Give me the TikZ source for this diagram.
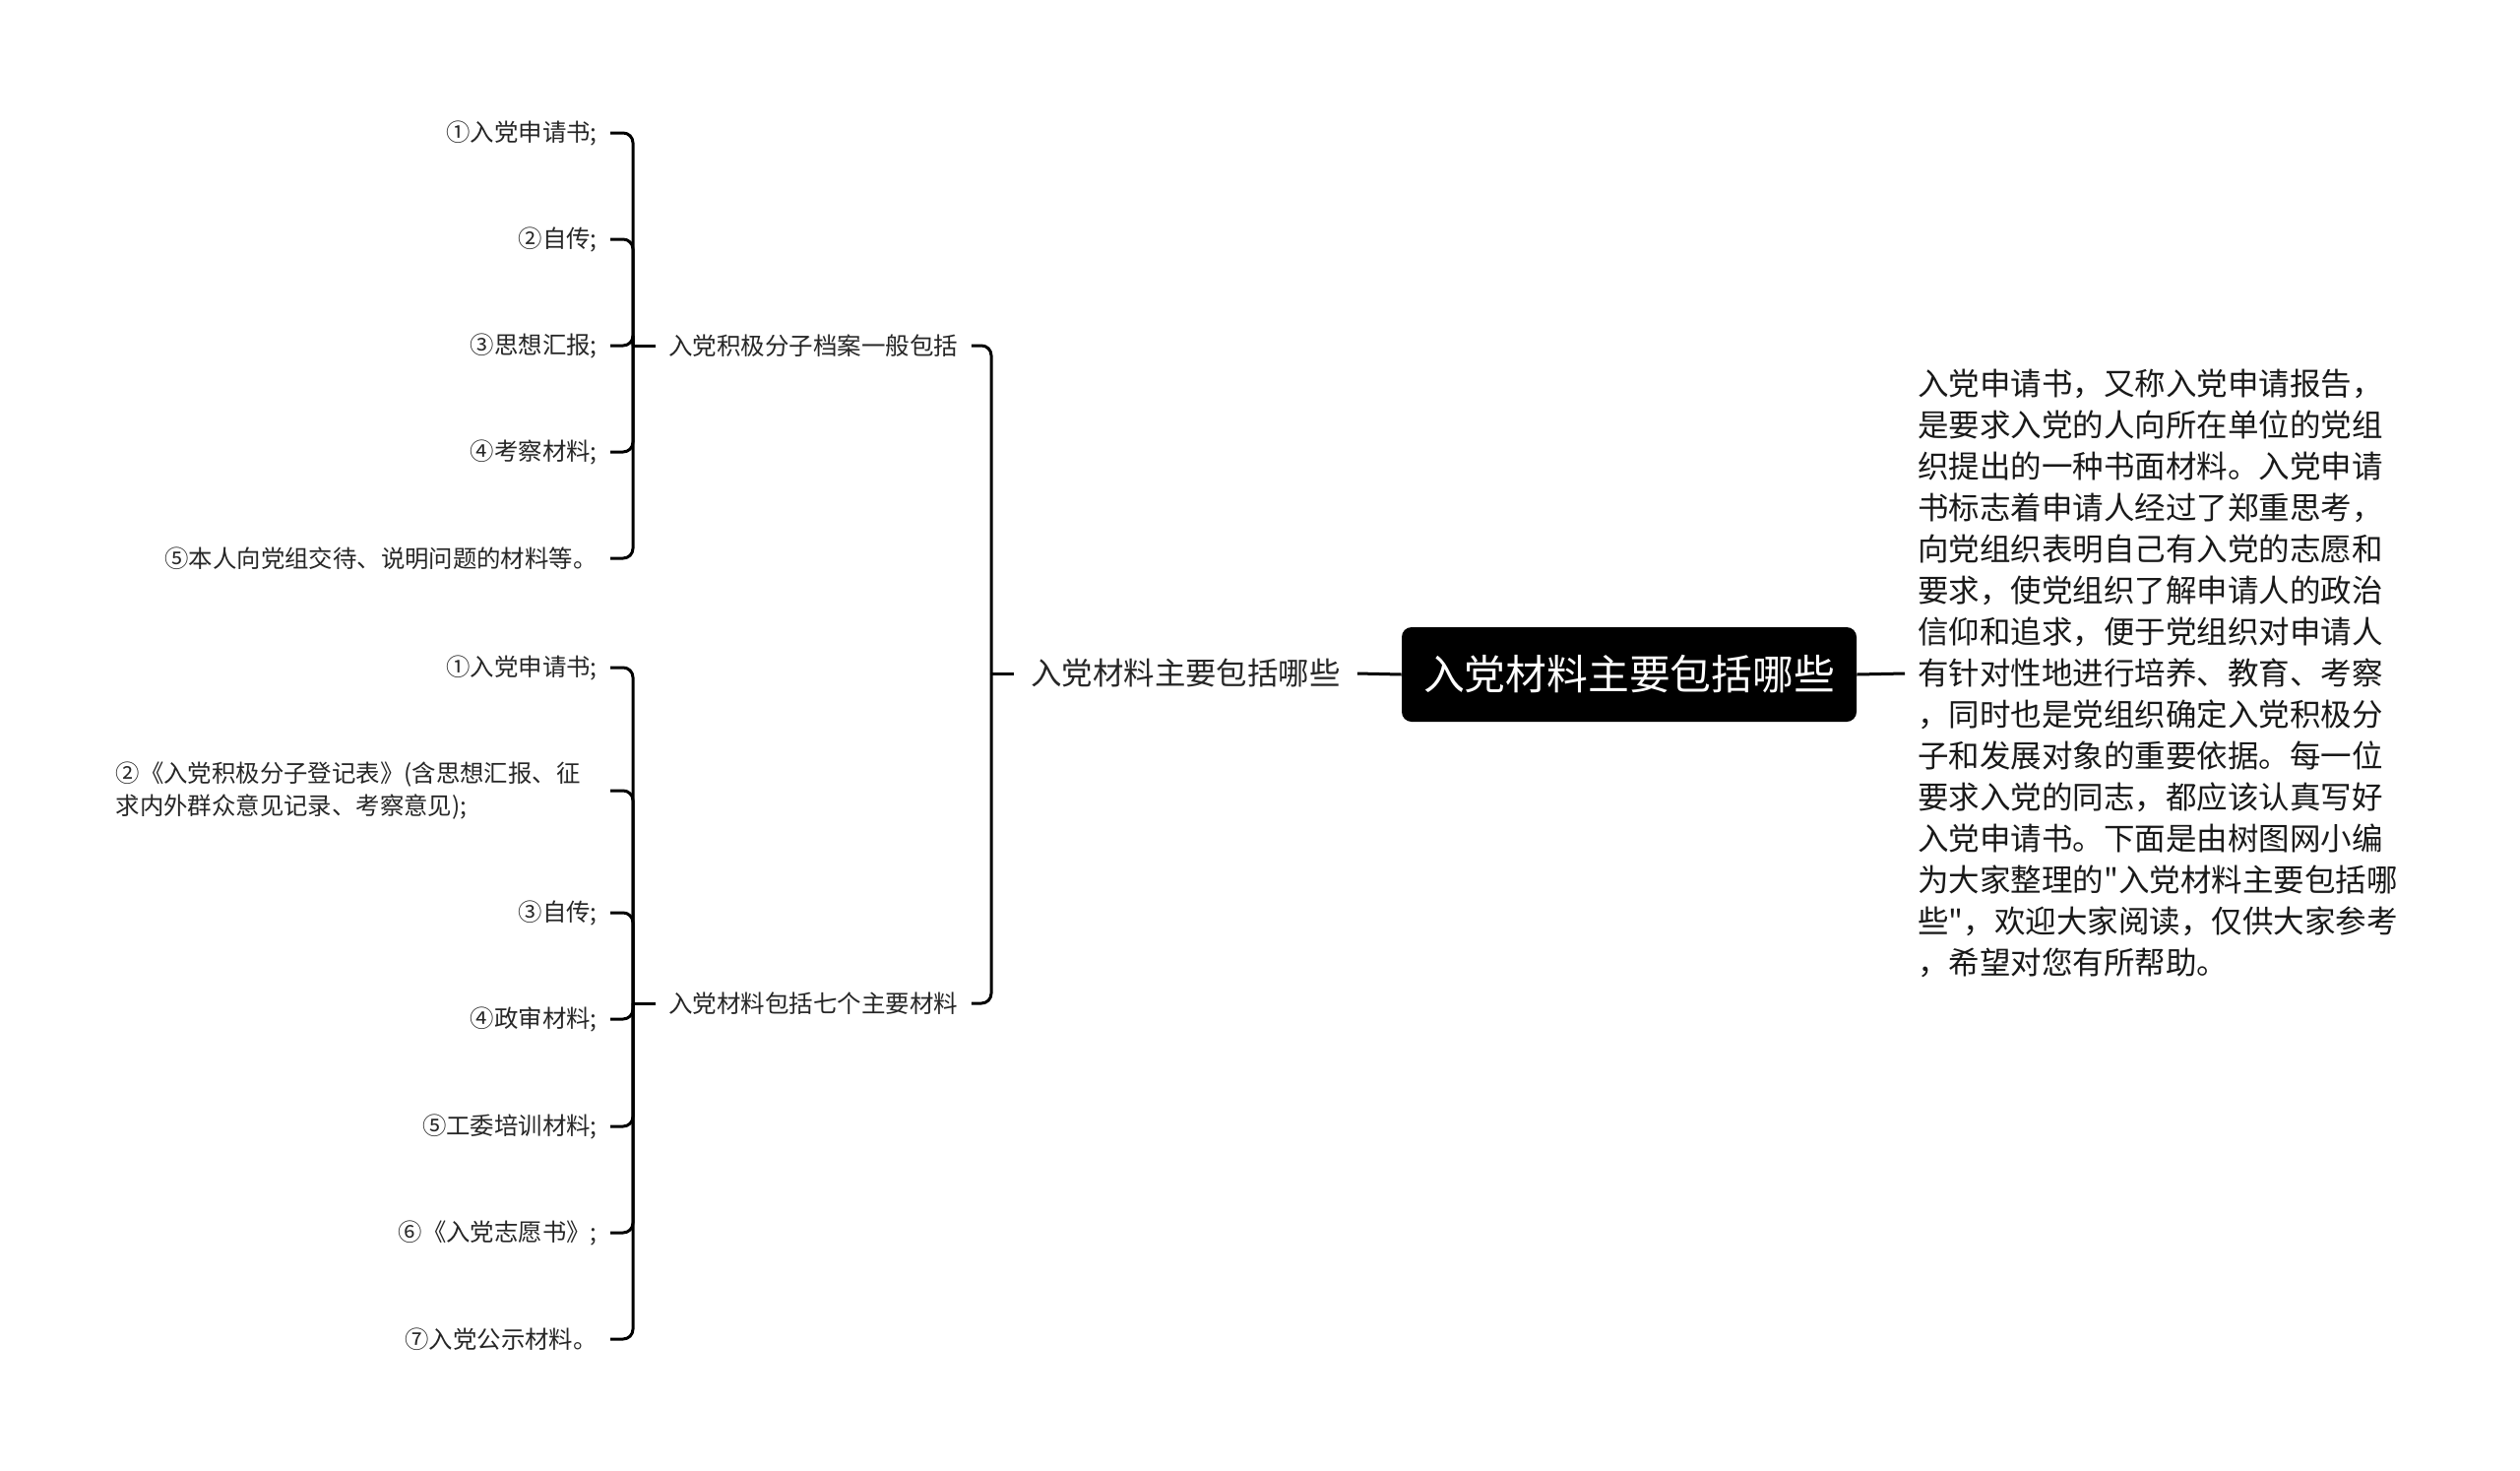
\documentclass[tikz,border=0pt]{standalone}
\usepackage{fontspec}
\newfontfamily\cjk{Noto Sans CJK SC}
\begin{document}
\begin{tikzpicture}[x=0.5pt,y=-0.5pt,
  conn/.style={line width=1.5pt, black, rounded corners=5pt},
  leaf/.style={font=\cjk\fontsize{12.2pt}{16.5pt}\selectfont, inner xsep=6.5pt, inner ysep=2pt, anchor=east, text=black!85},
  grp/.style={font=\cjk\fontsize{12.25pt}{15pt}\selectfont, inner xsep=6.5pt, inner ysep=2pt, anchor=west, text=black!85},
  lvl/.style={font=\cjk\fontsize{15.7pt}{19pt}\selectfont, inner xsep=8.5pt, inner ysep=2pt, anchor=west, text=black!85},
  rootbox/.style={font=\cjk\fontsize{20.9pt}{24pt}\selectfont, fill=black, text=white, rounded corners=5pt, minimum width=231pt, minimum height=48pt, inner sep=0pt},
  para/.style={font=\cjk\fontsize{15.75pt}{21pt}\selectfont, inner xsep=6.5pt, inner ysep=0pt, anchor=west, align=left, text=black!90}]
\path[use as bounding box] (0,0) rectangle (2560,1494);

% root and level one
\node[rootbox] (root) at (1655,685) {入党材料主要包括哪些};
\node[lvl] (main) at (1030,684) {入党材料主要包括哪些};
\node[para] (desc) at (1935,684) {入党申请书，又称入党申请报告，\\是要求入党的人向所在单位的党组\\织提出的一种书面材料。入党申请\\书标志着申请人经过了郑重思考，\\向党组织表明自己有入党的志愿和\\要求，使党组织了解申请人的政治\\信仰和追求，便于党组织对申请人\\有针对性地进行培养、教育、考察\\，同时也是党组织确定入党积极分\\子和发展对象的重要依据。每一位\\要求入党的同志，都应该认真写好\\入党申请书。下面是由树图网小编\\为大家整理的"入党材料主要包括哪\\些"，欢迎大家阅读，仅供大家参考\\，希望对您有所帮助。};

% groups
\node[grp] (g1) at (666,351) {入党积极分子档案一般包括};
\node[grp] (g2) at (666,1019) {入党材料包括七个主要材料};

% group 1 items
\node[leaf] (a1) at (620,135) {①入党申请书;};
\node[leaf] (a2) at (620,243) {②自传;};
\node[leaf] (a3) at (620,351) {③思想汇报;};
\node[leaf] (a4) at (620,459) {④考察材料;};
\node[leaf] (a5) at (620,567) {⑤本人向党组交待、说明问题的材料等。};

% group 2 items
\node[leaf] (b1) at (620,678) {①入党申请书;};
\node[leaf, text width=244.5pt, align=left] (b2) at (620,803) {②《入党积极分子登记表》(含思想汇报、征\\求内外群众意见记录、考察意见);};
\node[leaf] (b3) at (620,927) {③自传;};
\node[leaf] (b4) at (620,1035) {④政审材料;};
\node[leaf] (b5) at (620,1144) {⑤工委培训材料;};
\node[leaf] (b6) at (620,1252) {⑥《入党志愿书》;};
\node[leaf] (b7) at (620,1360) {⑦入党公示材料。};

% junctions
\coordinate (j0) at (1007,684);
\coordinate (j1) at (643,351);
\coordinate (j2) at (643,1019);

% connectors
\draw[conn] (root.west) -- (main.east);
\draw[conn] (root.east) -- (desc.west);
\draw[conn] (main.west) -- (j0);
\draw[conn] (j0) |- (g1.east);
\draw[conn] (j0) |- (g2.east);
\draw[conn] (g1.west) -- (j1);
\draw[conn] (g2.west) -- (j2);
\foreach \n in {a1,a2,a3,a4,a5} \draw[conn] (j1) |- (\n.east);
\foreach \n in {b1,b2,b3,b4,b5,b6,b7} \draw[conn] (j2) |- (\n.east);
\end{tikzpicture}
\end{document}
